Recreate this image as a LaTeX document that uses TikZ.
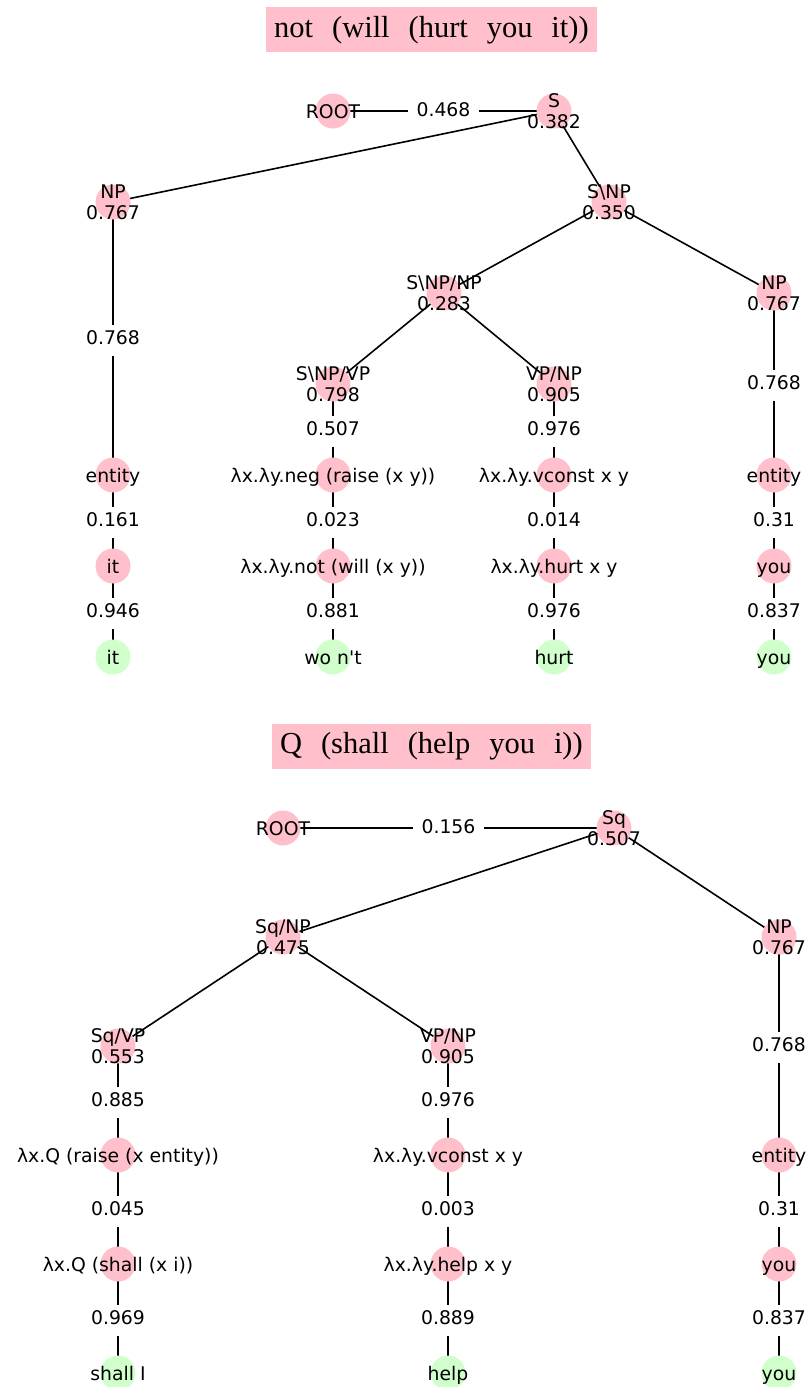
\documentclass[tikz,border=0pt]{standalone}
\usepackage{fontspec}
\usepackage{tikz}
\usetikzlibrary{backgrounds}
\newfontfamily\labfont{DejaVu Sans}
\newfontfamily\titlefont{Liberation Serif}
\definecolor{nodepink}{RGB}{255,192,203}
\definecolor{leafgreen}{RGB}{208,255,204}
\newcommand\tgap{\hspace{0.62em}}
\tikzset{
  pnode/.style = {circle, fill=nodepink, minimum size=17.5pt, inner sep=0pt},
  gnode/.style = {pnode, fill=leafgreen},
  lab/.style   = {font=\labfont\fontsize{9.4}{10.8}\selectfont, align=center, inner sep=0pt,
                  execute at begin node=\strut, execute at end node=\strut, yshift=-1.7pt},
  elab/.style  = {lab, fill=white, inner xsep=4.5pt, inner ysep=2.4pt, yshift=0.9pt},
  edge/.style  = {line width=0.8pt, black},
  ttl/.style   = {fill=nodepink, font=\titlefont\fontsize{15.25}{18}\selectfont,
                  text height=11pt, text depth=3.5pt, inner xsep=4pt, inner ysep=4pt},
}

\begin{document}
\begin{tikzpicture}[x=0.5pt, y=-0.5pt]
  \useasboundingbox (0,0) rectangle (809,1387);

  % first tree
  \node[ttl] (title1) at (431.5,29.5) {not\tgap(will\tgap(hurt\tgap you\tgap it))};

  \node[pnode, label={[lab]center:ROOT}] (root1) at (333,111) {};
  \node[pnode, label={[lab]center:S\\0.382}] (s1) at (554,111) {};
  \node[pnode, label={[lab]center:NP\\0.767}] (np1) at (113,202) {};
  \node[pnode, label={[lab]center:S\textbackslash NP\\0.350}] (snp1) at (609,202) {};
  \node[pnode, label={[lab]center:S\textbackslash NP/NP\\0.283}] (snpnp1) at (444,293) {};
  \node[pnode, label={[lab]center:NP\\0.767}] (npr1) at (774,293) {};
  \node[pnode, label={[lab]center:S\textbackslash NP/VP\\0.798}] (snpvp1) at (333,384) {};
  \node[pnode, label={[lab]center:VP/NP\\0.905}] (vpnp1) at (554,384) {};
  \node[pnode, label={[lab]center:entity}] (ent1) at (113,475) {};
  \node[pnode, label={[lab]center:λx.λy.neg (raise (x y))}] (neg1) at (333,475) {};
  \node[pnode, label={[lab]center:λx.λy.vconst x y}] (vconst1) at (554,475) {};
  \node[pnode, label={[lab]center:entity}] (entr1) at (774,475) {};
  \node[pnode, label={[lab]center:it}] (it1) at (113,566) {};
  \node[pnode, label={[lab]center:λx.λy.not (will (x y))}] (will1) at (333,566) {};
  \node[pnode, label={[lab]center:λx.λy.hurt x y}] (hurt1) at (554,566) {};
  \node[pnode, label={[lab]center:you}] (you1) at (774,566) {};
  \node[gnode, label={[lab]center:it}] (wit1) at (113,657) {};
  \node[gnode, label={[lab]center:wo n't}] (wwont1) at (333,657) {};
  \node[gnode, label={[lab]center:hurt}] (whurt1) at (554,657) {};
  \node[gnode, label={[lab]center:you}] (wyou1) at (774,657) {};

  \begin{scope}[on background layer]
    \draw[edge] (root1.center) -- node[elab] {0.468} (s1.center);
    \draw[edge] (s1.center) -- (np1.center);
    \draw[edge] (s1.center) -- (snp1.center);
    \draw[edge] (snp1.center) -- (snpnp1.center);
    \draw[edge] (snp1.center) -- (npr1.center);
    \draw[edge] (snpnp1.center) -- (snpvp1.center);
    \draw[edge] (snpnp1.center) -- (vpnp1.center);
    \draw[edge] (np1.center) -- node[elab] {0.768} (ent1.center);
    \draw[edge] (snpvp1.center) -- node[elab] {0.507} (neg1.center);
    \draw[edge] (vpnp1.center) -- node[elab] {0.976} (vconst1.center);
    \draw[edge] (npr1.center) -- node[elab] {0.768} (entr1.center);
    \draw[edge] (ent1.center) -- node[elab] {0.161} (it1.center);
    \draw[edge] (neg1.center) -- node[elab] {0.023} (will1.center);
    \draw[edge] (vconst1.center) -- node[elab] {0.014} (hurt1.center);
    \draw[edge] (entr1.center) -- node[elab] {0.31} (you1.center);
    \draw[edge] (it1.center) -- node[elab] {0.946} (wit1.center);
    \draw[edge] (will1.center) -- node[elab] {0.881} (wwont1.center);
    \draw[edge] (hurt1.center) -- node[elab] {0.976} (whurt1.center);
    \draw[edge] (you1.center) -- node[elab] {0.837} (wyou1.center);
  \end{scope}

  % second tree
  \node[ttl] (title2) at (431.5,746) {Q\tgap(shall\tgap(help\tgap you\tgap i))};

  \node[pnode, label={[lab]center:ROOT}] (root2) at (283,828) {};
  \node[pnode, label={[lab]center:Sq\\0.507}] (sq2) at (614,828) {};
  \node[pnode, label={[lab]center:Sq/NP\\0.475}] (sqnp2) at (283,937) {};
  \node[pnode, label={[lab]center:NP\\0.767}] (np2) at (779,937) {};
  \node[pnode, label={[lab]center:Sq/VP\\0.553}] (sqvp2) at (118,1046) {};
  \node[pnode, label={[lab]center:VP/NP\\0.905}] (vpnp2) at (448,1046) {};
  \node[pnode, label={[lab]center:λx.Q (raise (x entity))}] (raise2) at (118,1155) {};
  \node[pnode, label={[lab]center:λx.λy.vconst x y}] (vconst2) at (448,1155) {};
  \node[pnode, label={[lab]center:entity}] (ent2) at (779,1155) {};
  \node[pnode, label={[lab]center:λx.Q (shall (x i))}] (shall2) at (118,1264) {};
  \node[pnode, label={[lab]center:λx.λy.help x y}] (help2) at (448,1264) {};
  \node[pnode, label={[lab]center:you}] (you2) at (779,1264) {};
  \node[gnode, label={[lab]center:shall I}] (wshall2) at (118,1373) {};
  \node[gnode, label={[lab]center:help}] (whelp2) at (448,1373) {};
  \node[gnode, label={[lab]center:you}] (wyou2) at (779,1373) {};

  \begin{scope}[on background layer]
    \draw[edge] (root2.center) -- node[elab] {0.156} (sq2.center);
    \draw[edge] (sq2.center) -- (sqnp2.center);
    \draw[edge] (sq2.center) -- (np2.center);
    \draw[edge] (sqnp2.center) -- (sqvp2.center);
    \draw[edge] (sqnp2.center) -- (vpnp2.center);
    \draw[edge] (np2.center) -- node[elab] {0.768} (ent2.center);
    \draw[edge] (sqvp2.center) -- node[elab] {0.885} (raise2.center);
    \draw[edge] (vpnp2.center) -- node[elab] {0.976} (vconst2.center);
    \draw[edge] (raise2.center) -- node[elab] {0.045} (shall2.center);
    \draw[edge] (vconst2.center) -- node[elab] {0.003} (help2.center);
    \draw[edge] (ent2.center) -- node[elab] {0.31} (you2.center);
    \draw[edge] (shall2.center) -- node[elab] {0.969} (wshall2.center);
    \draw[edge] (help2.center) -- node[elab] {0.889} (whelp2.center);
    \draw[edge] (you2.center) -- node[elab] {0.837} (wyou2.center);
  \end{scope}
\end{tikzpicture}
\end{document}
